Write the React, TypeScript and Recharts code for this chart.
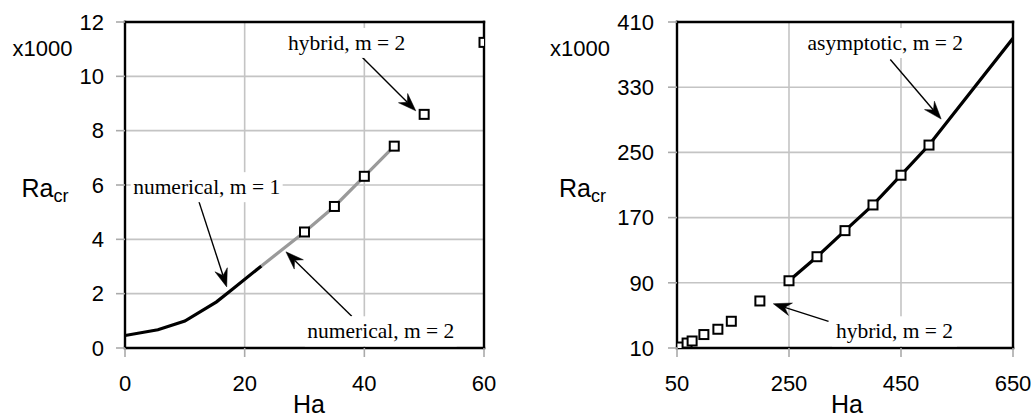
import React from 'react';
import {
  ComposedChart,
  Line,
  Scatter,
  XAxis,
  YAxis,
  CartesianGrid,
  ReferenceLine,
  ReferenceDot,
} from 'recharts';

// ---------- Left panel data ----------
const leftNumM1Ha = [0, 5.5, 10, 15.3, 18, 22.8];
const leftNumM1Ra = [0.46, 0.67, 0.99, 1.7, 2.17, 3.02];
const leftNumM2Ha = [22.8, 30, 35, 40, 45];
const leftNumM2Ra = [3.02, 4.27, 5.21, 6.32, 7.43];
const leftHybridHa = [30, 35, 40, 45, 50, 60];
const leftHybridRa = [4.27, 5.21, 6.32, 7.43, 8.6, 11.25];
const leftXTicks = [0, 20, 40, 60];
const leftYTicks = [0, 2, 4, 6, 8, 10, 12];
const leftNoteTexts = ['hybrid, m = 2', 'numerical, m = 1', 'numerical, m = 2'];
const leftNoteHa = [37.05, 13.65, 42.75];
const leftNoteRa = [11.23, 5.92, 0.615];
const leftArrowFromHa = [39.56, 12.37, 37.9];
const leftArrowFromRa = [10.72, 5.38, 1.17];
const leftArrowToHa = [48.6, 17.0, 26.9];
const leftArrowToRa = [8.73, 2.25, 3.54];

// ---------- Right panel data ----------
const rightAsymHa = [250, 300, 350, 400, 450, 500, 650];
const rightAsymRa = [92.5, 122, 154, 185.5, 222, 259, 390];
const rightHybridHa = [57, 68, 77, 98, 123, 147, 198, 250, 300, 350, 400, 450, 500];
const rightHybridRa = [11.2, 16.1, 18.6, 26.5, 33, 42.8, 67.7, 92.5, 122, 154, 185.5, 222, 259];
const rightXTicks = [50, 250, 450, 650];
const rightYTicks = [10, 90, 170, 250, 330, 410];
const rightNoteTexts = ['asymptotic, m = 2', 'hybrid, m = 2'];
const rightNoteHa = [422, 438.4];
const rightNoteRa = [384.2, 30.5];
const rightArrowFromHa = [430.9, 320.6];
const rightArrowFromRa = [364, 42.7];
const rightArrowToHa = [521.7, 222];
const rightArrowToRa = [290.9, 64.3];

const zip = (xs: number[], ys: number[]) => xs.map((x, i) => ({ x, y: ys[i] }));

const SANS = '"Liberation Sans", Arial, Helvetica, sans-serif';
const SERIF = '"Liberation Serif", "Times New Roman", Times, serif';
const GRID = '#c4c4c4';

const SquareShape = (p: any) => {
  const { cx, cy } = p;
  if (cx == null || cy == null) return null;
  const s = 9;
  return (
    <rect x={cx - s / 2} y={cy - s / 2} width={s} height={s} fill="#fff" stroke="#000" strokeWidth={2} />
  );
};

const ArrowShape = (p: any) => {
  const { x1, y1, x2, y2 } = p;
  const dx = x2 - x1;
  const dy = y2 - y1;
  const len = Math.hypot(dx, dy) || 1;
  const ux = dx / len;
  const uy = dy / len;
  const L = 18;
  const W = 6.5;
  const N = 12;
  const bx = x2 - ux * L;
  const by = y2 - uy * L;
  const px = -uy;
  const py = ux;
  const pts = [
    [x2, y2],
    [bx + px * W, by + py * W],
    [x2 - ux * N, y2 - uy * N],
    [bx - px * W, by - py * W],
  ]
    .map((q) => q.join(','))
    .join(' ');
  return (
    <g>
      <line x1={x1} y1={y1} x2={x2 - ux * N} y2={y2 - uy * N} stroke="#000" strokeWidth={1.4} />
      <polygon points={pts} fill="#000" stroke="#000" strokeWidth={0.5} />
    </g>
  );
};

const FrameShape = (p: any) => {
  const { x1, y1, x2, y2 } = p;
  return <line x1={x1} y1={y1} x2={x2} y2={y2} stroke="#000" strokeWidth={2.4} strokeLinecap="square" />;
};

const makeNoteShape = (text: string) => (p: any) => {
  const { cx, cy } = p;
  if (cx == null || cy == null) return null;
  const w = text.length * 9 + 8;
  return (
    <g>
      <rect x={cx - w / 2} y={cy - 15} width={w} height={30} fill="#fff" stroke="none" />
      <text x={cx} y={cy + 7} textAnchor="middle" fontFamily={SERIF} fontSize={21.5} fill="#000">
        {text}
      </text>
    </g>
  );
};

type PanelProps = {
  xDomain: [number, number];
  yDomain: [number, number];
  xTicks: number[];
  yTicks: number[];
  margin: { top: number; right: number; bottom: number; left: number };
  yTickMargin: number;
  lines: { data: { x: number; y: number }[]; color: string }[];
  squares: { x: number; y: number }[];
  noteTexts: string[];
  noteHa: number[];
  noteRa: number[];
  arrowFromHa: number[];
  arrowFromRa: number[];
  arrowToHa: number[];
  arrowToRa: number[];
};

const Panel = (props: PanelProps) => {
  const tickStyle = { fontFamily: SANS, fontSize: 22, fill: '#000' };
  const [x0, x1] = props.xDomain;
  const [y0, y1] = props.yDomain;
  const innerX = props.xTicks.slice(1, -1);
  const innerY = props.yTicks.slice(1, -1);
  const frame = [
    [{ x: x0, y: y0 }, { x: x1, y: y0 }],
    [{ x: x0, y: y1 }, { x: x1, y: y1 }],
    [{ x: x0, y: y0 }, { x: x0, y: y1 }],
    [{ x: x1, y: y0 }, { x: x1, y: y1 }],
  ];
  return (
    <ComposedChart width={518} height={420} margin={props.margin}>
      <CartesianGrid stroke={GRID} strokeWidth={1.6} horizontalValues={innerY} verticalValues={innerX} />
      <XAxis
        dataKey="x"
        type="number"
        domain={props.xDomain}
        ticks={props.xTicks}
        allowDataOverflow
        height={50}
        tickSize={9}
        tickMargin={18}
        tickLine={{ stroke: '#aaa', strokeWidth: 1.6 }}
        axisLine={false}
        tick={tickStyle}
        interval={0}
      />
      <YAxis
        dataKey="y"
        type="number"
        domain={props.yDomain}
        ticks={props.yTicks}
        allowDataOverflow
        width={100}
        tickSize={9}
        tickMargin={props.yTickMargin}
        tickLine={{ stroke: '#aaa', strokeWidth: 1.6 }}
        axisLine={false}
        tick={tickStyle}
        interval={0}
      />
      {props.noteTexts.map((t, i) => (
        <ReferenceDot
          key={'n' + i}
          x={props.noteHa[i]}
          y={props.noteRa[i]}
          ifOverflow="visible"
          shape={makeNoteShape(t)}
        />
      ))}
      {props.arrowFromHa.map((_, i) => (
        <ReferenceLine
          key={'a' + i}
          ifOverflow="visible"
          segment={[
            { x: props.arrowFromHa[i], y: props.arrowFromRa[i] },
            { x: props.arrowToHa[i], y: props.arrowToRa[i] },
          ]}
          shape={ArrowShape}
        />
      ))}
      {frame.map((seg, i) => (
        <ReferenceLine key={'f' + i} ifOverflow="visible" segment={seg} shape={FrameShape} />
      ))}
      {props.lines.map((l, i) => (
        <Line
          key={'l' + i}
          data={l.data}
          dataKey="y"
          stroke={l.color}
          strokeWidth={3.2}
          dot={false}
          activeDot={false}
          isAnimationActive={false}
          type="linear"
        />
      ))}
      <Scatter data={props.squares} dataKey="y" shape={SquareShape} isAnimationActive={false} />
    </ComposedChart>
  );
};

const AxisTitles = () => (
  <svg width={1036} height={420} style={{ position: 'absolute', left: 0, top: 0, pointerEvents: 'none' }}>
    <g fontFamily={SANS} fill="#000">
      <text x={42.5} y={56} textAnchor="middle" fontSize={22}>x1000</text>
      <text x={21.5} y={196.5} fontSize={25}>
        Ra<tspan fontSize={18} dy={5}>cr</tspan>
      </text>
      <text x={309} y={413} textAnchor="middle" fontSize={25}>Ha</text>

      <text x={580} y={56} textAnchor="middle" fontSize={22}>x1000</text>
      <text x={559} y={196.5} fontSize={25}>
        Ra<tspan fontSize={18} dy={5}>cr</tspan>
      </text>
      <text x={847} y={413} textAnchor="middle" fontSize={25}>Ha</text>
    </g>
  </svg>
);

export default function App() {
  return (
    <div style={{ position: 'absolute', left: 0, top: 0, width: 1036, height: 420, background: '#fff' }}>
      <div style={{ position: 'absolute', left: 0, top: 0 }}>
        <Panel
          xDomain={[0, 60]}
          yDomain={[0, 12]}
          xTicks={leftXTicks}
          yTicks={leftYTicks}
          margin={{ top: 22, right: 34, bottom: 22, left: 25 }}
          yTickMargin={12}
          lines={[
            { data: zip(leftNumM1Ha, leftNumM1Ra), color: '#000' },
            { data: zip(leftNumM2Ha, leftNumM2Ra), color: '#9a9a9a' },
          ]}
          squares={zip(leftHybridHa, leftHybridRa)}
          noteTexts={leftNoteTexts}
          noteHa={leftNoteHa}
          noteRa={leftNoteRa}
          arrowFromHa={leftArrowFromHa}
          arrowFromRa={leftArrowFromRa}
          arrowToHa={leftArrowToHa}
          arrowToRa={leftArrowToRa}
        />
      </div>
      <div style={{ position: 'absolute', left: 518, top: 0 }}>
        <Panel
          xDomain={[50, 650]}
          yDomain={[10, 410]}
          xTicks={rightXTicks}
          yTicks={rightYTicks}
          margin={{ top: 22, right: 23, bottom: 22, left: 59 }}
          yTickMargin={14}
          lines={[{ data: zip(rightAsymHa, rightAsymRa), color: '#000' }]}
          squares={zip(rightHybridHa, rightHybridRa)}
          noteTexts={rightNoteTexts}
          noteHa={rightNoteHa}
          noteRa={rightNoteRa}
          arrowFromHa={rightArrowFromHa}
          arrowFromRa={rightArrowFromRa}
          arrowToHa={rightArrowToHa}
          arrowToRa={rightArrowToRa}
        />
      </div>
      <AxisTitles />
    </div>
  );
}
